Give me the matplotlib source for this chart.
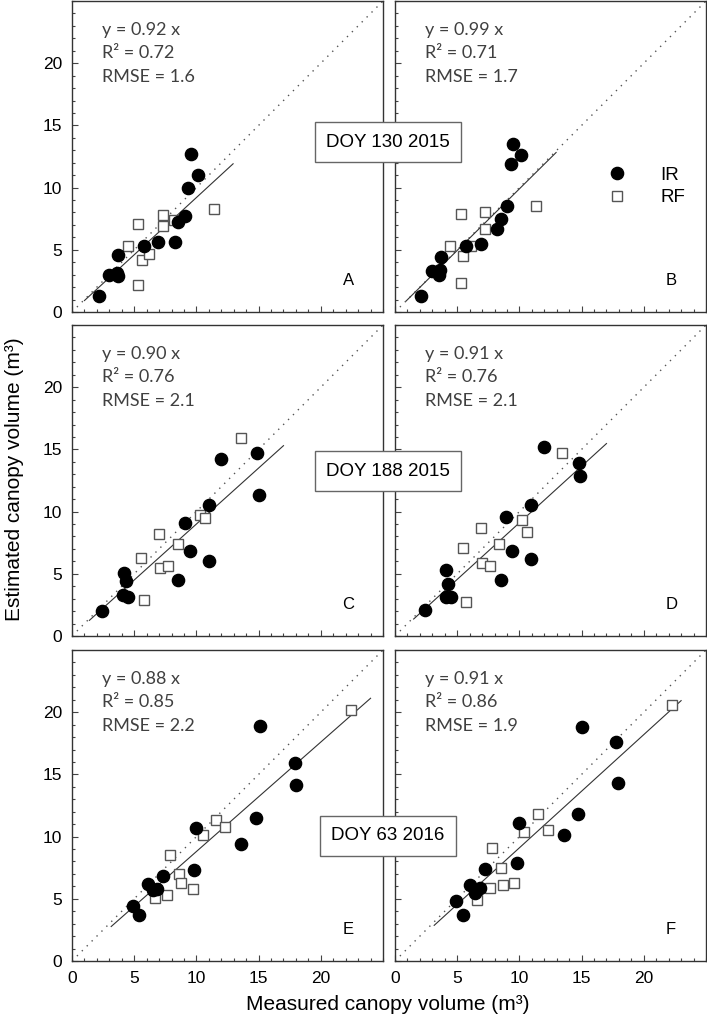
import matplotlib
matplotlib.use('Agg')
import matplotlib.pyplot as plt
from matplotlib.lines import Line2D
from matplotlib.ticker import MultipleLocator

# ---- data (m3) ----
# A: DOY 130 2015, left
A_ir_x = [2.2, 3.0, 3.6, 3.7, 3.7, 5.8, 6.9, 8.3, 8.5, 9.1, 9.3, 9.6, 10.1]
A_ir_y = [1.25, 3.0, 3.1, 2.9, 4.6, 5.3, 5.6, 5.6, 7.2, 7.7, 10.0, 12.7, 11.0]
A_rf_x = [5.3, 4.5, 5.6, 6.2, 5.3, 7.3, 7.3, 8.2, 11.4]
A_rf_y = [7.1, 5.3, 4.2, 4.7, 2.2, 7.8, 6.9, 7.4, 8.3]

# B: DOY 130 2015, right
B_ir_x = [2.1, 3.0, 3.6, 3.55, 3.7, 5.7, 6.9, 8.2, 8.5, 9.0, 9.3, 9.5, 10.1]
B_ir_y = [1.25, 3.3, 3.4, 3.0, 4.4, 5.3, 5.5, 6.7, 7.5, 8.5, 11.9, 13.5, 12.6]
B_rf_x = [4.4, 5.3, 5.5, 6.1, 5.3, 7.2, 7.2, 11.3]
B_rf_y = [5.3, 7.9, 4.5, 5.3, 2.3, 8.0, 6.7, 8.5]

# C: DOY 188 2015, left
C_ir_x = [2.4, 4.1, 4.5, 4.2, 4.35, 8.5, 9.1, 9.5, 11.0, 11.0, 12.0, 14.85, 15.0]
C_ir_y = [2.0, 3.3, 3.1, 5.1, 4.4, 4.5, 9.1, 6.8, 10.5, 6.0, 14.2, 14.75, 11.3]
C_rf_x = [5.8, 5.55, 7.0, 7.1, 7.7, 8.5, 10.3, 10.7, 13.6]
C_rf_y = [2.9, 6.3, 8.2, 5.5, 5.6, 7.4, 9.7, 9.5, 15.95]

# D: DOY 188 2015, right
D_ir_x = [2.4, 4.1, 4.5, 4.1, 4.3, 8.5, 8.95, 9.4, 10.9, 10.9, 12.0, 14.8, 14.9]
D_ir_y = [2.1, 3.15, 3.1, 5.3, 4.2, 4.5, 9.6, 6.8, 10.5, 6.2, 15.2, 13.9, 12.9]
D_rf_x = [5.7, 5.5, 6.9, 7.0, 7.6, 8.4, 10.2, 10.6, 13.4]
D_rf_y = [2.75, 7.1, 8.7, 5.9, 5.6, 7.4, 9.3, 8.35, 14.75]

# E: DOY 63 2016, left
E_ir_x = [4.9, 5.4, 6.1, 6.5, 6.8, 7.3, 9.8, 10.0, 13.6, 14.8, 15.1, 17.9, 18.0]
E_ir_y = [4.4, 3.7, 6.2, 5.7, 5.8, 6.8, 7.3, 10.7, 9.4, 11.5, 18.9, 15.9, 14.15]
E_rf_x = [6.7, 7.6, 7.9, 8.6, 8.75, 9.7, 10.5, 11.6, 12.3, 22.4]
E_rf_y = [5.05, 5.3, 8.5, 7.0, 6.3, 5.8, 10.1, 11.3, 10.8, 20.2]

# F: DOY 63 2016, right
F_ir_x = [4.9, 5.5, 6.0, 6.4, 6.8, 7.2, 9.8, 9.95, 13.6, 14.7, 15.0, 17.8, 17.9]
F_ir_y = [4.8, 3.7, 6.1, 5.5, 5.85, 7.4, 7.9, 11.1, 10.15, 11.8, 18.8, 17.6, 14.3]
F_rf_x = [6.6, 7.6, 7.8, 8.5, 8.7, 9.6, 10.4, 11.5, 12.3, 22.3]
F_rf_y = [4.9, 5.9, 9.1, 7.5, 6.1, 6.3, 10.4, 11.8, 10.5, 20.6]

slopes = [0.92, 0.99, 0.90, 0.91, 0.88, 0.91]
r2 = ['0.72', '0.71', '0.76', '0.76', '0.85', '0.86']
rmse = ['1.6', '1.7', '2.1', '2.1', '2.2', '1.9']
fit_x = [(1.0, 12.95), (0.9, 12.95), (1.4, 17.0), (1.5, 17.0), (3.15, 24.0), (3.15, 23.0)]
letters = ['A', 'B', 'C', 'D', 'E', 'F']
doy_labels = ['DOY 130 2015', 'DOY 188 2015', 'DOY 63 2016']

ir_x = [A_ir_x, B_ir_x, C_ir_x, D_ir_x, E_ir_x, F_ir_x]
ir_y = [A_ir_y, B_ir_y, C_ir_y, D_ir_y, E_ir_y, F_ir_y]
rf_x = [A_rf_x, B_rf_x, C_rf_x, D_rf_x, E_rf_x, F_rf_x]
rf_y = [A_rf_y, B_rf_y, C_rf_y, D_rf_y, E_rf_y, F_rf_y]

W, H = 707, 1022
fig = plt.figure(figsize=(W / 100, H / 100), dpi=100)

col_left = [72, 395]
rows_top = [1, 325, 650]
size = 311

axes = []
for i in range(6):
    r, c = divmod(i, 2)
    x0 = col_left[c] / W
    y0 = 1 - (rows_top[r] + size) / H
    ax = fig.add_axes([x0, y0, size / W, size / H])
    axes.append(ax)

    ax.plot([0, 25], [0, 25], color='#555555', lw=1, linestyle=(0, (1, 4)), zorder=1)
    lx = list(fit_x[i])
    ax.plot(lx, [slopes[i] * v for v in lx], color='#333333', lw=0.8, zorder=2)
    ax.plot(rf_x[i], rf_y[i], 's', ms=7.5, mfc='white', mec='#555555', mew=1.0,
            linestyle='none', zorder=3)
    ax.plot(ir_x[i], ir_y[i], 'o', ms=8.8, mfc='black', mec='black',
            linestyle='none', zorder=4)

    ax.set_xlim(0, 25)
    ax.set_ylim(0, 25)
    ax.xaxis.set_minor_locator(MultipleLocator(1))
    ax.yaxis.set_minor_locator(MultipleLocator(1))
    ax.tick_params(which='both', direction='in', top=False, right=False,
                   color='#444444', labelsize=12.5, pad=7)
    ax.tick_params(which='major', length=4, width=0.8)
    ax.tick_params(which='minor', length=2.5, width=0.8)
    for sp in ax.spines.values():
        sp.set_color('#333333')
        sp.set_linewidth(1)

    ax.set_xticks([0, 5, 10, 15, 20])
    ax.set_yticks([0, 5, 10, 15, 20])
    if r < 2:
        ax.set_xticklabels([])
    if c == 1:
        ax.set_yticklabels([])

    stats = ['y = %.2f x' % slopes[i], 'R\u00b2 = ' + r2[i], 'RMSE = ' + rmse[i]]
    for k, s in enumerate(stats):
        ax.text(2.4, 22.7 - k * 1.9, s, fontsize=13, family='Lato',
                color='#404040', ha='left', va='center')
    ax.text(22.2, 2.5, letters[i], fontsize=12, family='Liberation Sans',
            ha='center', va='center')

# legend in panel B
handles = [Line2D([], [], marker='o', ms=8.8, mfc='black', mec='black', linestyle='none'),
           Line2D([], [], marker='s', ms=7.5, mfc='white', mec='#555555', linestyle='none')]
axes[1].legend(handles, ['IR', 'RF'], loc='center left', bbox_to_anchor=(0.685, 0.404),
               frameon=False, handlelength=1, handletextpad=1.8, labelspacing=0.3,
               borderpad=0, borderaxespad=0, prop={'family': 'Liberation Sans', 'size': 13.5})

# DOY boxes straddling the two columns
box_y = [142, 471, 836]
for lab, yy in zip(doy_labels, box_y):
    fig.text(388 / W, 1 - yy / H, lab, fontsize=13.5, family='Liberation Sans',
             ha='center', va='center',
             bbox=dict(boxstyle='square,pad=0.6', fc='white', ec='#666666', lw=1))

fig.text(388 / W, 1 - 1004 / H, 'Measured canopy volume (m\u00b3)', fontsize=15,
         family='Liberation Sans', ha='center', va='center')
fig.text(15 / W, 1 - 479 / H, 'Estimated canopy volume (m\u00b3)', fontsize=15,
         family='Liberation Sans', ha='center', va='center', rotation=90)

for ax in axes:
    for lbl in ax.get_xticklabels() + ax.get_yticklabels():
        lbl.set_family('Liberation Sans')

fig.savefig('out.png', dpi=100)
